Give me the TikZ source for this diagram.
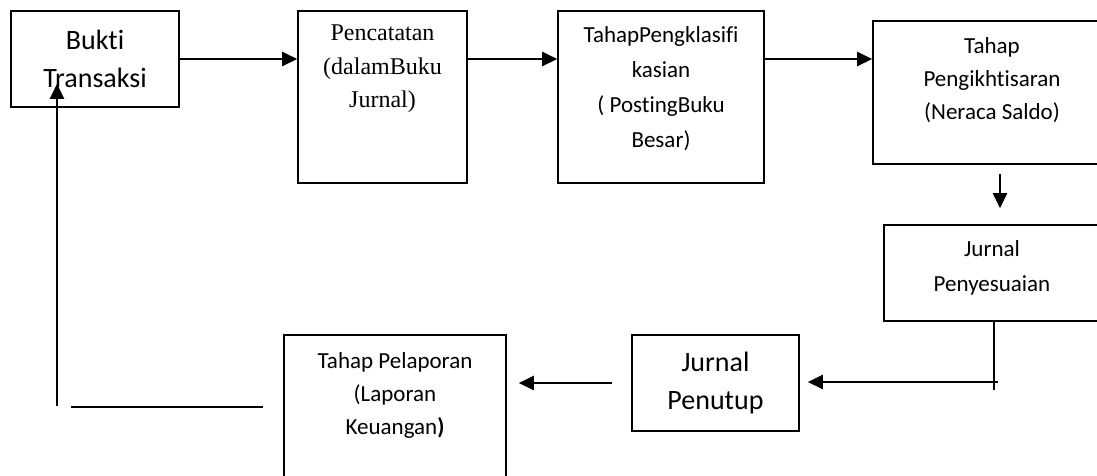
\documentclass[tikz,border=0pt]{standalone}
\usepackage{fontspec}
\setmainfont{Carlito}[Ligatures=NoCommon]
\newfontfamily\serifstage{Liberation Serif}
\usetikzlibrary{arrows.meta,positioning}
\tikzset{
  stage/.style={draw, line width=1.6pt, inner sep=0pt},
  stagetxt/.style={align=center, inner sep=0pt, font=\fontsize{23}{33}\selectfont},
  bigtxt/.style={align=center, inner sep=0pt, font=\fontsize{28}{38}\selectfont},
  flow/.style={-{Triangle[length=15pt,width=14pt]}, line width=2.4pt},
  link/.style={line width=2.2pt},
  thinlink/.style={line width=1.4pt},
}

\begin{document}
\begin{tikzpicture}[x=1pt,y=-1pt]
  \clip (0,0) rectangle (1097,475);
  \fill[white] (0,0) rectangle (1097,475);
  % top row
  \node[stage, bigtxt, minimum width=168pt, minimum height=96pt] (bukti) at (95,59) {Bukti\\Transaksi};
  \node[stage, minimum width=169pt, minimum height=172pt] (catat) at (382.5,97) {};
  \node[stagetxt, font=\serifstage\fontsize{24}{33.5}\selectfont] (catat-t) at (382.5,69) {Pencatatan\\(dalamBuku\\Jurnal)};
  \node[stage, minimum width=206pt, minimum height=172pt] (klasif) at (661,97) {};
  \node[stagetxt, font=\fontsize{23}{35}\selectfont] (klasif-t) at (661,89) {TahapPengklasifi\\kasian\\( PostingBuku\\Besar)};
  \node[stage, minimum width=238pt, minimum height=143pt] (ikhtisar) at (992,92.5) {};
  \node[stagetxt] (ikhtisar-t) at (992,80) {Tahap\\Pengikhtisaran\\(Neraca Saldo)};
  % right column and bottom row
  \node[stage, minimum width=216pt, minimum height=96pt] (sesuai) at (992,273) {};
  \node[stagetxt, font=\fontsize{23}{35}\selectfont] (sesuai-t) at (992,268) {Jurnal\\Penyesuaian};
  \node[stage, bigtxt, minimum width=167pt, minimum height=96pt] (tutup) at (715.5,383) {Jurnal\\Penutup};
  \node[stage, minimum width=222pt, minimum height=185pt] (lapor) at (395,427.5) {};
  \node[stagetxt] (lapor-t) at (395,395) {Tahap Pelaporan\\(Laporan\\Keuangan\textbf{)}};

  \draw[flow] (bukti.east) -- (bukti.east -| catat.west);
  \draw[flow] (catat.east |- bukti.east) -- (klasif.west |- bukti.east);
  \draw[flow] (klasif.east |- bukti.east) -- (ikhtisar.west |- bukti.east);
  \draw[flow, shorten <=9pt, shorten >=16pt] ([xshift=8pt]ikhtisar.south) -- ([xshift=8pt]sesuai.north);

  \coordinate (turn) at (994,382);
  \draw[thinlink] (sesuai.south -| turn) -- ([yshift=-8pt]turn);
  \draw[flow, shorten >=8pt] ([xshift=4pt]turn) -- (turn -| tutup.east);
  \draw[flow, shorten <=19pt, shorten >=12pt] (tutup.west) -- (tutup.west -| lapor.east);

  % back to the start
  \coordinate (back) at (57,407);
  \draw[link] ([xshift=-20pt]lapor.west |- back) -- ([xshift=14pt]back);
  \draw[flow, shorten >=-24pt] ([yshift=1pt]back) -- (back |- bukti.south);
\end{tikzpicture}
\end{document}
